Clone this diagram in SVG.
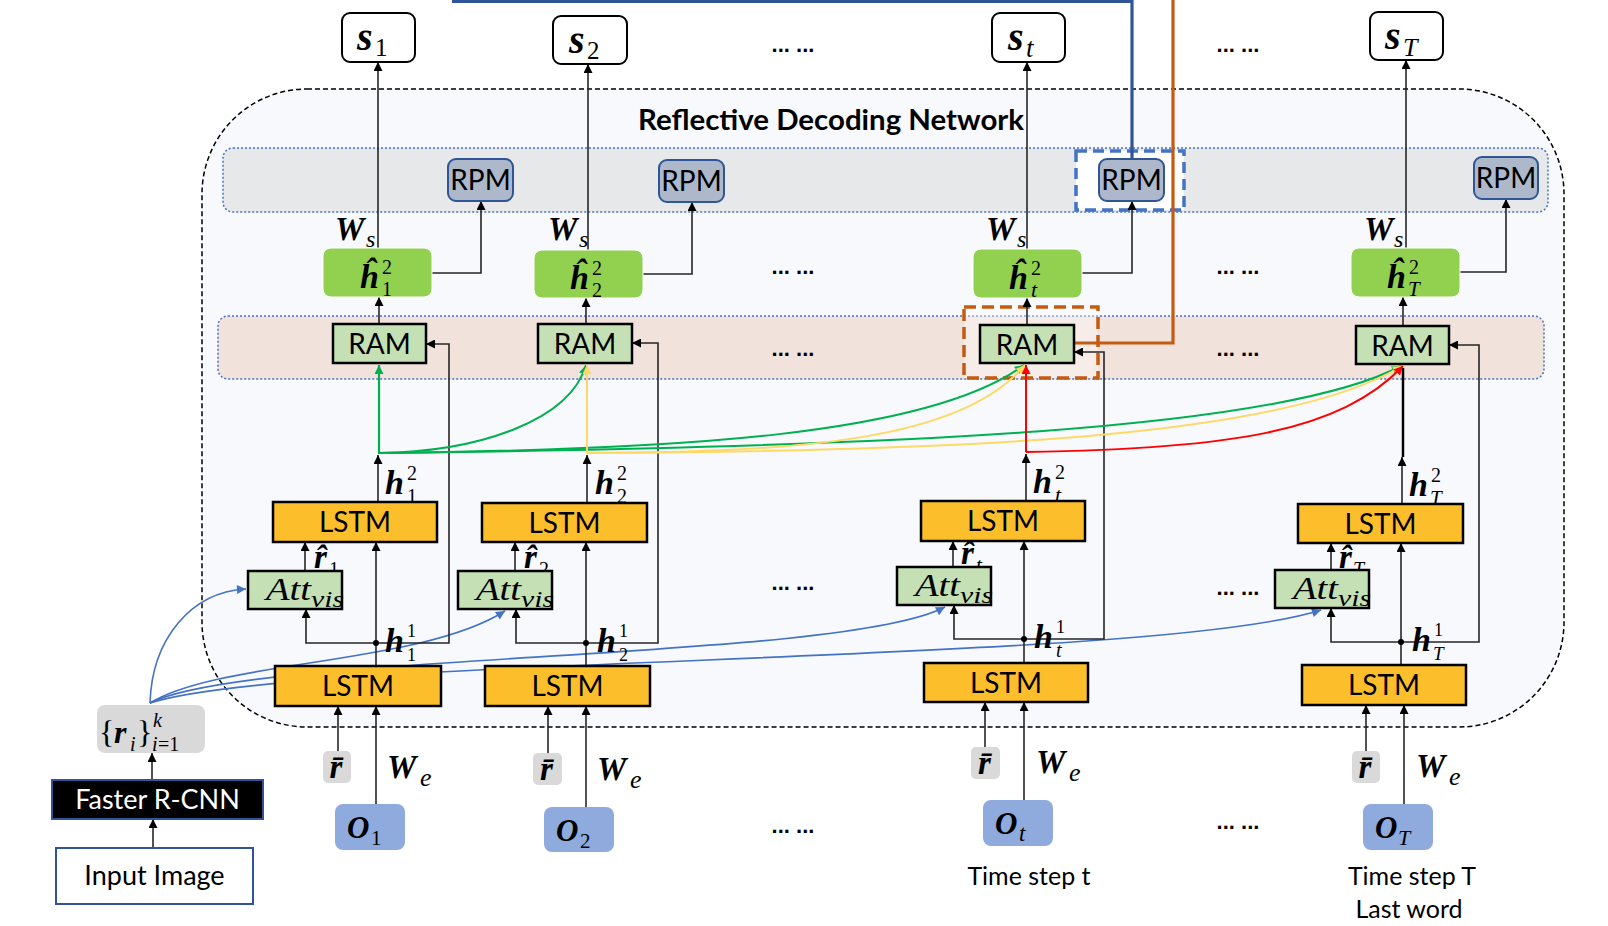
<svg xmlns="http://www.w3.org/2000/svg" width="1608" height="926" viewBox="0 0 1608 926">
<style>
.sans{font-family:Lato,"Liberation Sans",sans-serif;fill:#000}
.lstm{fill:#fdbe2c;stroke:#000;stroke-width:2.5}
.ram{fill:#c5e0b4;stroke:#000;stroke-width:2.5}
.rpm{fill:#adb9ca;stroke:#2f5597;stroke-width:2}
.hh{fill:#92d050;stroke:#fff;stroke-width:1}
.sbox{fill:#fff;stroke:#000;stroke-width:2}
.obox{fill:#8faadc}
.gbox{fill:#d9d9d9}
.ln{fill:none;stroke:#262626;stroke-width:1.6}
.mb{font-family:"Liberation Serif","DejaVu Serif",serif;font-weight:bold;font-style:italic;fill:#000}
.mi{font-family:"Liberation Serif","DejaVu Serif",serif;font-style:italic;fill:#000}
.mr{font-family:"Liberation Serif","DejaVu Serif",serif;fill:#000}
.dots{font-family:"Liberation Sans",sans-serif;font-weight:bold;font-size:22px;fill:#000}
.t28{font-size:28px}
</style>
<defs>
<marker id="mk" viewBox="0 0 10 10" refX="10" refY="5" markerWidth="10" markerHeight="9" markerUnits="userSpaceOnUse" orient="auto"><path d="M0,0 L10,5 L0,10 z" fill="#000"/></marker>
<marker id="mg" viewBox="0 0 10 10" refX="10" refY="5" markerWidth="10" markerHeight="9" markerUnits="userSpaceOnUse" orient="auto"><path d="M0,0 L10,5 L0,10 z" fill="#00b050"/></marker>
<marker id="my" viewBox="0 0 10 10" refX="10" refY="5" markerWidth="10" markerHeight="9" markerUnits="userSpaceOnUse" orient="auto"><path d="M0,0 L10,5 L0,10 z" fill="#ffd966"/></marker>
<marker id="mr" viewBox="0 0 10 10" refX="10" refY="5" markerWidth="10" markerHeight="9" markerUnits="userSpaceOnUse" orient="auto"><path d="M0,0 L10,5 L0,10 z" fill="#ff0000"/></marker>
<marker id="mb" viewBox="0 0 10 10" refX="10" refY="5" markerWidth="11" markerHeight="9" markerUnits="userSpaceOnUse" orient="auto"><path d="M0,0 L10,5 L0,10 z" fill="#4472c4"/></marker>
</defs>
<rect width="1608" height="926" fill="#fff"/>

<g id="background">
<rect x="202" y="89" width="1362" height="638" rx="105" fill="#f7f9fd" stroke="#000" stroke-width="1.5" stroke-dasharray="5,3"/>
<rect x="223" y="148" width="1325" height="64" rx="10" fill="#e7e8ea" stroke="#4472c4" stroke-width="1.5" stroke-dasharray="2,2"/>
<rect x="218" y="316" width="1326" height="63" rx="10" fill="#f1e2dc" stroke="#4472c4" stroke-width="1.5" stroke-dasharray="2,2"/>
<rect x="1076" y="151" width="108" height="59" fill="#fff" stroke="#4472c4" stroke-width="3.5" stroke-dasharray="11,6"/>
<rect x="964" y="307" width="134" height="71" fill="#fff" fill-opacity="0.35" stroke="#c55a11" stroke-width="3.5" stroke-dasharray="12,6"/>
<text class="sans" x="638" y="130" font-size="28" font-weight="bold" textLength="386" lengthAdjust="spacingAndGlyphs">Reflective Decoding Network</text>
</g>

<g id="connectors">
<path d="M1132,159 V1.5 H452" fill="none" stroke="#2f5597" stroke-width="3.2"/>
<path d="M1173,0 V343 H1074" fill="none" stroke="#c55a11" stroke-width="3.2"/>
<g fill="none" stroke="#4472c4" stroke-width="1.6">
<path d="M150,703 C152,640 190,592 246,589" marker-end="url(#mb)"/>
<path d="M150,703 C220,660 420,665 505,611" marker-end="url(#mb)"/>
<path d="M150,703 C250,652 840,662 945,607" marker-end="url(#mb)"/>
<path d="M150,703 C300,655 1150,665 1321,610" marker-end="url(#mb)"/>
</g>
<g class="ln" marker-end="url(#mk)">
<path d="M378,248 V62"/>
<path d="M379,324 V297"/>
<path d="M432,273 H481 V201"/>
<path d="M378,502 V455"/>
<path d="M376,666 V542"/>
<path d="M305,571 V542"/>
<path d="M376,643 H306 V609"/>
<path d="M376,643 H449 V344 H426"/>
<path d="M338,751 V706"/>
<path d="M376,804 V706"/>
</g>
<g class="ln" marker-end="url(#mk)">
<path d="M588,250 V64"/>
<path d="M586,324 V298"/>
<path d="M643,274 H692 V202"/>
<path d="M587,503 V455"/>
<path d="M586,666 V542"/>
<path d="M515,571 V542"/>
<path d="M586,643 H516 V609"/>
<path d="M586,643 H658 V343 H632"/>
<path d="M548,753 V706"/>
<path d="M586,807 V706"/>
</g>
<g class="ln" marker-end="url(#mk)">
<path d="M1027,249 V62"/>
<path d="M1027,325 V298"/>
<path d="M1082,273 H1132 V201"/>
<path d="M1026,501 V454"/>
<path d="M1024,663 V541"/>
<path d="M953,567 V541"/>
<path d="M1024,639 H954 V605"/>
<path d="M1024,639 H1104 V352 H1074"/>
<path d="M985,747 V702"/>
<path d="M1024,800 V702"/>
</g>
<g class="ln" marker-end="url(#mk)">
<path d="M1406,248 V60"/>
<path d="M1403,326 V297"/>
<path d="M1460,272 H1506 V199"/>
<path d="M1402,504 V457"/>
<path d="M1401,665 V543"/>
<path d="M1331,570 V543"/>
<path d="M1401,642 H1331 V608"/>
<path d="M1401,642 H1479 V345 H1449"/>
<path d="M1366,751 V705"/>
<path d="M1404,804 V705"/>
</g>
<path d="M1403,457 V368" fill="none" stroke="#000" stroke-width="2.5"/>
<g class="ln" marker-end="url(#mk)">
<path d="M153,848 V819"/>
<path d="M152,780 V753"/>
</g>
<g fill="none" stroke-width="2">
<path d="M378,453 C900,447 1280,430 1401,366" stroke="#00b050" marker-end="url(#mg)"/>
<path d="M587,453 C1000,451 1290,434 1402,366" stroke="#ffd966" marker-end="url(#my)"/>
<path d="M1026,452 C1230,449 1340,432 1403,366" stroke="#ff0000" marker-end="url(#mr)"/>
<path d="M378,453 C680,450 930,435 1024,365" stroke="#00b050" marker-end="url(#mg)"/>
<path d="M587,453 C800,452 960,441 1025,365" stroke="#ffd966" marker-end="url(#my)"/>
<path d="M1026,452 V365" stroke="#ff0000" marker-end="url(#mr)"/>
<path d="M378,453 C480,452 570,420 586,365" stroke="#00b050" marker-end="url(#mg)"/>
<path d="M587,453 V365" stroke="#ffd966" marker-end="url(#my)"/>
<path d="M379,453 V365" stroke="#00b050" stroke-width="2.2" marker-end="url(#mg)"/>
</g>
<g fill="#000">
<circle cx="376" cy="643" r="3"/>
<circle cx="586" cy="643" r="3"/>
<circle cx="1024" cy="639" r="3"/>
<circle cx="1401" cy="642" r="3"/>
</g>
</g>

<g id="input-image"><rect x="56" y="848" width="197" height="56" fill="#fff" stroke="#2f5597" stroke-width="2"/><text class="sans" x="154.5" y="885" font-size="27" text-anchor="middle">Input Image</text></g>
<g id="faster-rcnn"><rect x="52" y="780" width="211" height="39" fill="#000" stroke="#2f5597" stroke-width="2"/><text class="sans" x="157.5" y="809" font-size="27" text-anchor="middle" style="fill:#fff">Faster R-CNN</text></g>
<g id="regions"><rect x="97" y="705" width="108" height="48" rx="8" class="gbox"/>
<text class="mr" x="99" y="743" font-size="32">{</text><text class="mb" x="114" y="743" font-size="32">r</text><text class="mi" x="130" y="751" font-size="20">i</text><text class="mr" x="137" y="743" font-size="32">}</text><text class="mi" x="153" y="727" font-size="20">k</text><text class="mi" x="152" y="751" font-size="20">i</text><text class="mr" x="158" y="751" font-size="20">=1</text></g>

<g id="s1"><rect x="342" y="13" width="73" height="49" rx="8" class="sbox"/><text class="mb" x="357" y="50" font-size="40">s</text><text class="mr" x="375" y="56" font-size="25">1</text></g>
<g id="s2"><rect x="553" y="16" width="74" height="48" rx="8" class="sbox"/><text class="mb" x="569" y="53" font-size="40">s</text><text class="mr" x="587" y="59" font-size="25">2</text></g>
<g id="st"><rect x="992" y="13" width="73" height="49" rx="8" class="sbox"/><text class="mb" x="1008" y="50" font-size="40">s</text><text class="mi" x="1026" y="57" font-size="27">t</text></g>
<g id="sT"><rect x="1370" y="12" width="73" height="48" rx="8" class="sbox"/><text class="mb" x="1385" y="49" font-size="40">s</text><text class="mi" x="1403" y="56" font-size="26">T</text></g>

<g id="rpm1"><rect x="448" y="159" width="65" height="42" rx="8" class="rpm"/><text class="sans t28" x="480.5" y="190" text-anchor="middle">RPM</text></g>
<g id="rpm2"><rect x="659" y="160" width="65" height="42" rx="8" class="rpm"/><text class="sans t28" x="691.5" y="191" text-anchor="middle">RPM</text></g>
<g id="rpmt"><rect x="1099" y="159" width="65" height="42" rx="8" class="rpm"/><text class="sans t28" x="1131.5" y="190" text-anchor="middle">RPM</text></g>
<g id="rpmT"><rect x="1474" y="157" width="64" height="42" rx="8" class="rpm"/><text class="sans t28" x="1506" y="188" text-anchor="middle">RPM</text></g>

<g id="ws-labels">
<text class="mb" x="335" y="240" font-size="33">W</text><text class="mi" x="366" y="247" font-size="24">s</text>
<text class="mb" x="548" y="240" font-size="33">W</text><text class="mi" x="579" y="247" font-size="24">s</text>
<text class="mb" x="986" y="240" font-size="33">W</text><text class="mi" x="1017" y="247" font-size="24">s</text>
<text class="mb" x="1364" y="240" font-size="33">W</text><text class="mi" x="1394" y="247" font-size="24">s</text>
</g>

<g id="hhat1"><rect x="323" y="248" width="109" height="49" rx="8" class="hh"/><text class="mb" x="360" y="288" font-size="34">ĥ</text><text class="mr" x="382" y="274" font-size="20">2</text><text class="mr" x="382" y="296" font-size="20">1</text></g>
<g id="hhat2"><rect x="534" y="250" width="109" height="48" rx="8" class="hh"/><text class="mb" x="570" y="289" font-size="34">ĥ</text><text class="mr" x="592" y="275" font-size="20">2</text><text class="mr" x="592" y="297" font-size="20">2</text></g>
<g id="hhatt"><rect x="973" y="249" width="109" height="49" rx="8" class="hh"/><text class="mb" x="1009" y="289" font-size="34">ĥ</text><text class="mr" x="1031" y="275" font-size="20">2</text><text class="mi" x="1031" y="297" font-size="22">t</text></g>
<g id="hhatT"><rect x="1351" y="248" width="109" height="49" rx="8" class="hh"/><text class="mb" x="1387" y="288" font-size="34">ĥ</text><text class="mr" x="1409" y="274" font-size="20">2</text><text class="mi" x="1408" y="296" font-size="21">T</text></g>

<g id="ram1"><rect x="333" y="324" width="93" height="39" class="ram"/><text class="sans t28" x="379.5" y="354" text-anchor="middle">RAM</text></g>
<g id="ram2"><rect x="538" y="324" width="94" height="39" class="ram"/><text class="sans t28" x="585" y="354" text-anchor="middle">RAM</text></g>
<g id="ramt"><rect x="980" y="325" width="94" height="38" class="ram"/><text class="sans t28" x="1027" y="355" text-anchor="middle">RAM</text></g>
<g id="ramT"><rect x="1356" y="326" width="93" height="38" class="ram"/><text class="sans t28" x="1402.5" y="356" text-anchor="middle">RAM</text></g>

<g id="h2-labels">
<text class="mb" x="385" y="494" font-size="34">h</text><text class="mr" x="407" y="480" font-size="20">2</text><text class="mr" x="407" y="503" font-size="20">1</text>
<text class="mb" x="595" y="494" font-size="34">h</text><text class="mr" x="617" y="480" font-size="20">2</text><text class="mr" x="617" y="503" font-size="20">2</text>
<text class="mb" x="1033" y="493" font-size="34">h</text><text class="mr" x="1055" y="479" font-size="20">2</text><text class="mi" x="1055" y="502" font-size="22">t</text>
<text class="mb" x="1409" y="496" font-size="34">h</text><text class="mr" x="1431" y="482" font-size="20">2</text><text class="mi" x="1430" y="505" font-size="21">T</text>
</g>

<g id="lstm2-1"><rect x="273" y="502" width="164" height="40" class="lstm"/><text class="sans t28" x="355" y="532" text-anchor="middle">LSTM</text></g>
<g id="lstm2-2"><rect x="482" y="503" width="165" height="39" class="lstm"/><text class="sans t28" x="564.5" y="533" text-anchor="middle">LSTM</text></g>
<g id="lstm2-t"><rect x="921" y="501" width="164" height="40" class="lstm"/><text class="sans t28" x="1003" y="531" text-anchor="middle">LSTM</text></g>
<g id="lstm2-T"><rect x="1298" y="504" width="165" height="39" class="lstm"/><text class="sans t28" x="1380.5" y="534" text-anchor="middle">LSTM</text></g>

<g id="rhat-labels">
<text class="mb" x="314" y="568" font-size="33">r̂</text><text class="mr" x="329" y="576" font-size="20">1</text>
<text class="mb" x="524" y="568" font-size="33">r̂</text><text class="mr" x="539" y="576" font-size="20">2</text>
<text class="mb" x="961" y="564" font-size="33">r̂</text><text class="mi" x="976" y="572" font-size="21">t</text>
<text class="mb" x="1339" y="568" font-size="33">r̂</text><text class="mi" x="1353" y="576" font-size="20">T</text>
</g>

<g id="att1"><rect x="248" y="571" width="94" height="38" class="ram"/><text class="mi" x="266" y="600" font-size="32" textLength="45" lengthAdjust="spacingAndGlyphs">Att</text><text class="mi" x="311" y="607" font-size="24" textLength="33" lengthAdjust="spacingAndGlyphs">vis</text></g>
<g id="att2"><rect x="458" y="571" width="94" height="38" class="ram"/><text class="mi" x="476" y="600" font-size="32" textLength="45" lengthAdjust="spacingAndGlyphs">Att</text><text class="mi" x="521" y="607" font-size="24" textLength="33" lengthAdjust="spacingAndGlyphs">vis</text></g>
<g id="attt"><rect x="897" y="567" width="94" height="38" class="ram"/><text class="mi" x="915" y="596" font-size="32" textLength="45" lengthAdjust="spacingAndGlyphs">Att</text><text class="mi" x="960" y="603" font-size="24" textLength="33" lengthAdjust="spacingAndGlyphs">vis</text></g>
<g id="attT"><rect x="1275" y="570" width="94" height="38" class="ram"/><text class="mi" x="1293" y="599" font-size="32" textLength="45" lengthAdjust="spacingAndGlyphs">Att</text><text class="mi" x="1338" y="606" font-size="24" textLength="33" lengthAdjust="spacingAndGlyphs">vis</text></g>

<g id="h1-labels">
<text class="mb" x="385" y="652" font-size="34">h</text><text class="mr" x="407" y="637" font-size="18">1</text><text class="mr" x="407" y="661" font-size="18">1</text>
<text class="mb" x="597" y="652" font-size="34">h</text><text class="mr" x="619" y="637" font-size="18">1</text><text class="mr" x="619" y="661" font-size="18">2</text>
<text class="mb" x="1034" y="648" font-size="34">h</text><text class="mr" x="1056" y="633" font-size="18">1</text><text class="mi" x="1056" y="657" font-size="20">t</text>
<text class="mb" x="1412" y="651" font-size="34">h</text><text class="mr" x="1434" y="636" font-size="18">1</text><text class="mi" x="1433" y="660" font-size="19">T</text>
</g>

<g id="lstm1-1"><rect x="275" y="666" width="166" height="40" class="lstm"/><text class="sans t28" x="358" y="696" text-anchor="middle">LSTM</text></g>
<g id="lstm1-2"><rect x="485" y="666" width="165" height="40" class="lstm"/><text class="sans t28" x="567.5" y="696" text-anchor="middle">LSTM</text></g>
<g id="lstm1-t"><rect x="924" y="663" width="164" height="39" class="lstm"/><text class="sans t28" x="1006" y="693" text-anchor="middle">LSTM</text></g>
<g id="lstm1-T"><rect x="1302" y="665" width="164" height="40" class="lstm"/><text class="sans t28" x="1384" y="695" text-anchor="middle">LSTM</text></g>

<g id="rbar1"><rect x="323" y="751" width="28" height="32" rx="5" class="gbox"/><text class="mb" x="336" y="778" font-size="33" text-anchor="middle">r̄</text></g>
<g id="rbar2"><rect x="533" y="753" width="29" height="32" rx="5" class="gbox"/><text class="mb" x="546.5" y="780" font-size="33" text-anchor="middle">r̄</text></g>
<g id="rbart"><rect x="971" y="747" width="29" height="32" rx="5" class="gbox"/><text class="mb" x="984.5" y="774" font-size="33" text-anchor="middle">r̄</text></g>
<g id="rbarT"><rect x="1352" y="751" width="28" height="32" rx="5" class="gbox"/><text class="mb" x="1365" y="778" font-size="33" text-anchor="middle">r̄</text></g>

<g id="we-labels">
<text class="mb" x="387" y="778" font-size="33">W</text><text class="mi" x="420" y="786" font-size="26">e</text>
<text class="mb" x="597" y="780" font-size="33">W</text><text class="mi" x="630" y="788" font-size="26">e</text>
<text class="mb" x="1036" y="773" font-size="33">W</text><text class="mi" x="1069" y="781" font-size="26">e</text>
<text class="mb" x="1416" y="777" font-size="33">W</text><text class="mi" x="1449" y="785" font-size="26">e</text>
</g>

<g id="o1"><rect x="335" y="804" width="70" height="46" rx="8" class="obox"/><text class="mb" x="347" y="838" font-size="31">O</text><text class="mr" x="371" y="845" font-size="21">1</text></g>
<g id="o2"><rect x="544" y="807" width="70" height="45" rx="8" class="obox"/><text class="mb" x="556" y="841" font-size="31">O</text><text class="mr" x="580" y="848" font-size="21">2</text></g>
<g id="ot"><rect x="983" y="800" width="70" height="46" rx="8" class="obox"/><text class="mb" x="995" y="834" font-size="31">O</text><text class="mi" x="1019" y="841" font-size="23">t</text></g>
<g id="oT"><rect x="1363" y="804" width="70" height="46" rx="8" class="obox"/><text class="mb" x="1375" y="838" font-size="31">O</text><text class="mi" x="1398" y="845" font-size="22">T</text></g>

<g id="time-labels">
<text class="sans" x="1029" y="885" font-size="25" text-anchor="middle">Time step t</text>
<text class="sans" x="1412" y="885" font-size="25" text-anchor="middle">Time step T</text>
<text class="sans" x="1409" y="918" font-size="25" text-anchor="middle">Last word</text>
</g>

<g id="ellipses">
<text class="dots" x="793" y="52" text-anchor="middle">... ...</text>
<text class="dots" x="1238" y="52" text-anchor="middle">... ...</text>
<text class="dots" x="793" y="274" text-anchor="middle">... ...</text>
<text class="dots" x="1238" y="274" text-anchor="middle">... ...</text>
<text class="dots" x="793" y="356" text-anchor="middle">... ...</text>
<text class="dots" x="1238" y="356" text-anchor="middle">... ...</text>
<text class="dots" x="793" y="590" text-anchor="middle">... ...</text>
<text class="dots" x="1238" y="595" text-anchor="middle">... ...</text>
<text class="dots" x="793" y="833" text-anchor="middle">... ...</text>
<text class="dots" x="1238" y="829" text-anchor="middle">... ...</text>
</g>
</svg>
